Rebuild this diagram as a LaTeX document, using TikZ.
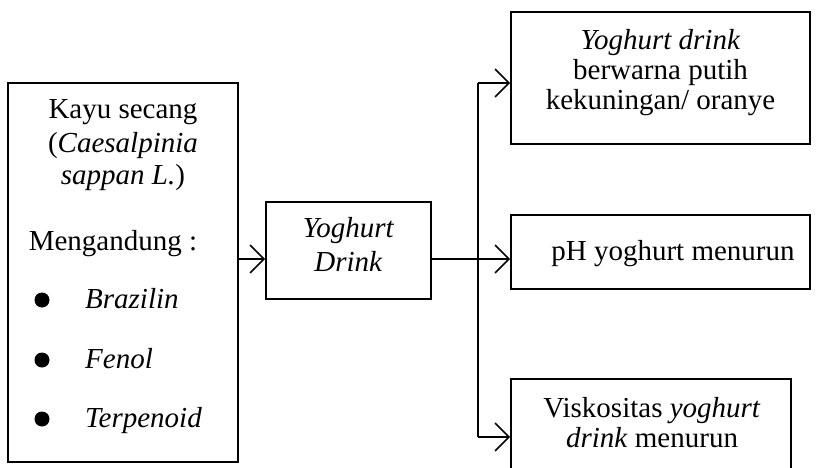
\documentclass[tikz,border=0pt]{standalone}
\usepackage{fontspec}
\setmainfont{Liberation Serif}
\usetikzlibrary{arrows.meta}
\tikzset{
  box/.style={draw, line width=1.6pt, rectangle, inner sep=0pt},
  txt/.style={anchor=base, inner sep=0pt, font=\fontsize{29}{33}\selectfont},
  ltxt/.style={anchor=base west, inner sep=0pt, font=\fontsize{29}{33}\selectfont},
  arr/.style={line width=1.6pt, -{Straight Barb[length=14pt,width=28pt]}},
  ln/.style={line width=1.6pt},
  bul/.style={circle, fill=black, inner sep=0pt, minimum size=15pt}
}
\begin{document}
\begin{tikzpicture}[x=1pt,y=1pt]
\clip (0,0) rectangle (832,-468);
% boxes
\node[box, minimum width=230pt, minimum height=379pt] (src) at (123,-272.5) {};
\node[box, minimum width=165pt, minimum height=97pt] (mid) at (348.5,-250.5) {};
\node[box, minimum width=299pt, minimum height=132pt] (top) at (660.5,-78) {};
\node[box, minimum width=299pt, minimum height=74pt] (ph) at (660.5,-252) {};
\node[box, minimum width=280pt, minimum height=122pt] (bot) at (651,-440) {};
% left box text
\node[txt] (t1) at (123,-119) {Kayu secang};
\node[txt] (t2) at (123,-153) {(\textit{Caesalpinia}};
\node[txt] (t3) at (123,-184) {\textit{sappan L.})};
\node[txt] (t4) at (113,-250) {Mengandung :};
\node[bul] (b1) at (42,-300) {};
\node[bul] (b2) at (42,-360) {};
\node[bul] (b3) at (42,-419) {};
\node[ltxt] (i1) at (85,-308) {\textit{Brazilin}};
\node[ltxt] (i2) at (85,-368) {\textit{Fenol}};
\node[ltxt] (i3) at (85,-427) {\textit{Terpenoid}};
% middle box text
\node[txt] (m1) at (348.5,-237) {\textit{Yoghurt}};
\node[txt] (m2) at (348.5,-271) {\textit{Drink}};
% right boxes text
\node[txt] (r1) at (660.5,-50) {\textit{Yoghurt drink}};
\node[txt] (r2) at (660.5,-80) {berwarna putih};
\node[txt] (r3) at (660.5,-110) {kekuningan/ oranye};
\node[txt] (p1) at (673,-260) {pH yoghurt menurun};
\node[txt] (v1) at (652,-417) {Viskositas \textit{yoghurt}};
\node[txt] (v2) at (652,-447) {\textit{drink} menurun};
% connectors
\coordinate (j) at (478,-259);
\coordinate (jt) at (478,-83);
\coordinate (jb) at (478,-437);
\draw[arr] (src.east |- j) -- (mid.west |- j);
\draw[ln] (mid.east |- j) -- (j);
\draw[arr] (j) -- (j -| ph.west);
\draw[ln] (jt) -- (jb);
\draw[arr] (jt) -- (jt -| top.west);
\draw[arr] (jb) -- (jb -| bot.west);
\end{tikzpicture}
\end{document}
